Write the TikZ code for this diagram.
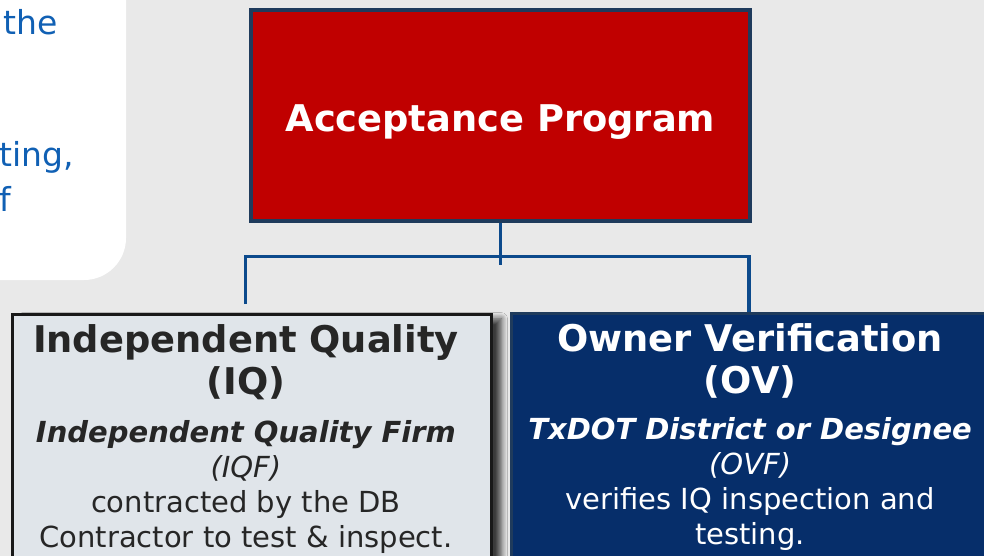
\documentclass[tikz,border=0pt]{standalone}
\usepackage{fontspec}
\setmainfont{DejaVu Sans}
\usetikzlibrary{positioning,shadows.blur}

\definecolor{bggray}{HTML}{E9E9E9}
\definecolor{accred}{HTML}{C00000}
\definecolor{framenavy}{HTML}{1F3B5C}
\definecolor{linkblue}{HTML}{0C4A8C}
\definecolor{iqfill}{HTML}{E0E5EA}
\definecolor{iqink}{HTML}{262626}
\definecolor{ovfill}{HTML}{062E6A}
\definecolor{noteblue}{HTML}{1060B4}

\newcommand{\midline}{\spaceskip=0pt\xspaceskip=0pt\leftskip=0pt plus 1fil\rightskip=0pt plus 1fil\parfillskip=0pt\relax}
\newcommand{\headfont}{\fontsize{36.8}{42}\selectfont\bfseries\midline}
\newcommand{\bodyfont}{\fontsize{29}{35}\selectfont\midline}

\begin{document}
\begin{tikzpicture}[x=1pt,y=-1pt,
        link/.style={draw=linkblue,line width=3.3pt},
        accbox/.style={draw=framenavy,fill=accred,line width=3.3pt,inner sep=0pt,
                minimum width=499pt,minimum height=211pt,
                text=white,font=\headfont,text height=33pt,text depth=0pt},
        iqbox/.style={draw=black!90,fill=iqfill,line width=3pt,inner sep=0pt,anchor=north,
                minimum width=479pt,minimum height=280pt,
                blur shadow={shadow xshift=10pt,shadow yshift=-4pt,shadow blur radius=6pt,shadow blur steps=8,shadow opacity=75}},
        ovbox/.style={draw=framenavy,fill=ovfill,line width=3pt,inner sep=0pt,
                minimum width=478pt,minimum height=280pt},
        boxtext/.style={align=center,text width=470pt,inner sep=0pt},
        note/.style={text=noteblue,font=\fontsize{33}{44}\selectfont,anchor=base east,inner sep=0pt}]
        \useasboundingbox (0,0) rectangle (984,556);
        \clip (0,0) rectangle (984,556);
        \fill[bggray] (0,0) rectangle (984,556);      %背景

        \fill[white,rounded corners=42pt] (-60,-60) rectangle (126,280);      %左上角的白色圆角框
        \node[note] (n1) at (58,35) {the};
        \node[note] (n2) at (74,167) {ting,};
        \node[note] (n3) at (11,211) {f};

        \node[accbox] (acc) at (500.4,115.5) {Acceptance Program};
        \node[iqbox] (iq) at (251.9,313.2) {};
        \node[ovbox, right=17.3pt of iq.north east, anchor=north west, yshift=1pt] (ov) {};

        \node[boxtext, text=iqink, below=11.5pt of iq.north, xshift=-6pt] (iqtxt) {%
                {\headfont Independent Quality\par (IQ)\par}
                \vspace{13pt}
                {\bodyfont\bfseries\itshape Independent Quality Firm\par}
                {\bodyfont\itshape (IQF)\par}
                {\bodyfont contracted by the DB\par Contractor to test \& inspect.\par}};
        \node[boxtext, text=white, below=11.3pt of ov.north, xshift=-0.6pt] (ovtxt) {%
                {\headfont Owner Verification\par (OV)\par}
                \vspace{11pt}
                {\bodyfont\bfseries\itshape TxDOT District or Designee\par}
                {\bodyfont\itshape (OVF)\par}
                {\bodyfont verifies IQ inspection and\par testing.\par}};

        \coordinate (hub) at ([yshift=-42pt]acc.south);
        \coordinate (jl) at (245.5,256.6);
        \coordinate (jr) at (749,256.6);
        \coordinate (iqend) at (245.5,304);
        \draw[link] (acc.south) -- (hub);      %竖线
        \draw[link] (iqend) -- (jl) -- (jr) -- (jr |- ov.north);      %分叉到两个框
\end{tikzpicture}
\end{document}
